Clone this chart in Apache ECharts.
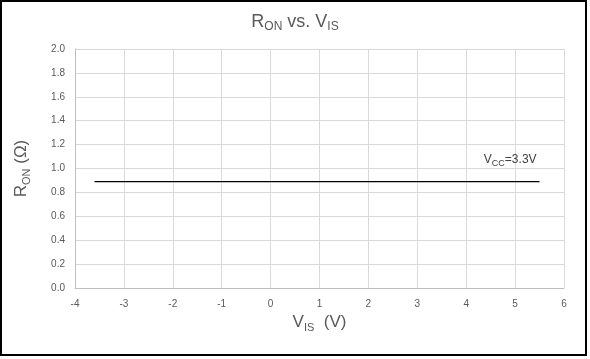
<!DOCTYPE html>
<html><head><meta charset="utf-8">
<script src="https://cdn.jsdelivr.net/npm/echarts@6/dist/echarts.min.js"></script>
<style>
html,body{margin:0;padding:0;background:#fff;}
#c{width:590px;height:359px;position:absolute;left:0;top:0;}
#f{position:absolute;left:0;top:0;width:587px;height:356px;border:2px solid #000;box-sizing:border-box;pointer-events:none;}
</style></head>
<body><div id="c"></div><div id="f"></div>
<script>
const vis = [-3.6, 5.5];
const ron = [0.89, 0.89];
const labelPos = [4.9, 1.07];

const chart = echarts.init(document.getElementById('c'), null, {renderer:'canvas'});
const gray = '#595959';
const font = 'Liberation Sans, Arial, sans-serif';
const rich = (m,s,c)=>({
  m:{fontSize:m,color:c||gray,fontFamily:font,fontWeight:'normal',verticalAlign:'bottom'},
  s:{fontSize:s,color:c||gray,fontFamily:font,fontWeight:'normal',verticalAlign:'bottom',padding:[0,0,-2,0]}
});
chart.setOption({
  animation:false,
  textStyle:{fontFamily:font},
  title:{
    text:'{m|R}{s|ON}{m| vs. V}{s|IS}',
    left:'center', top:8,
    textStyle:{fontWeight:'normal',rich:rich(18,12)}
  },
  grid:{left:75,right:26,top:49,bottom:71},
  xAxis:{
    type:'value',min:-4,max:6,interval:1,
    axisLine:{show:true,onZero:false,lineStyle:{color:'#bfbfbf'}},
    axisTick:{show:false},
    axisLabel:{color:gray,fontSize:10,margin:11,fontFamily:font},
    splitLine:{show:true,lineStyle:{color:'#d9d9d9'}},
    name:'{m|V}{s|IS}{m|  (V)}',nameLocation:'middle',nameGap:26,
    nameTextStyle:{rich:rich(17,11)}
  },
  yAxis:{
    type:'value',min:0,max:2,interval:0.2,
    axisLine:{show:true,onZero:false,lineStyle:{color:'#bfbfbf'}},
    axisTick:{show:false},
    axisLabel:{color:gray,fontSize:10,margin:10,fontFamily:font,formatter:v=>v.toFixed(1)},
    splitLine:{show:true,lineStyle:{color:'#d9d9d9'}},
    name:'{m|R}{s|ON}{m| (Ω)}',nameLocation:'middle',nameGap:45,nameRotate:90,
    nameTextStyle:{rich:rich(17,11)}
  },
  series:[{
    type:'line',
    data:vis.map((v,i)=>[v,ron[i]]),
    showSymbol:false,symbol:'none',
    lineStyle:{color:'#000',width:1.2},
    markPoint:{
      symbol:'circle',symbolSize:0,
      data:[{coord:labelPos}],
      label:{show:true,position:'inside',
        formatter:'{m|V}{s|CC}{m|=3.3V}',
        rich:rich(12,9,'#404040')}
    }
  }]
});
</script></body></html>
